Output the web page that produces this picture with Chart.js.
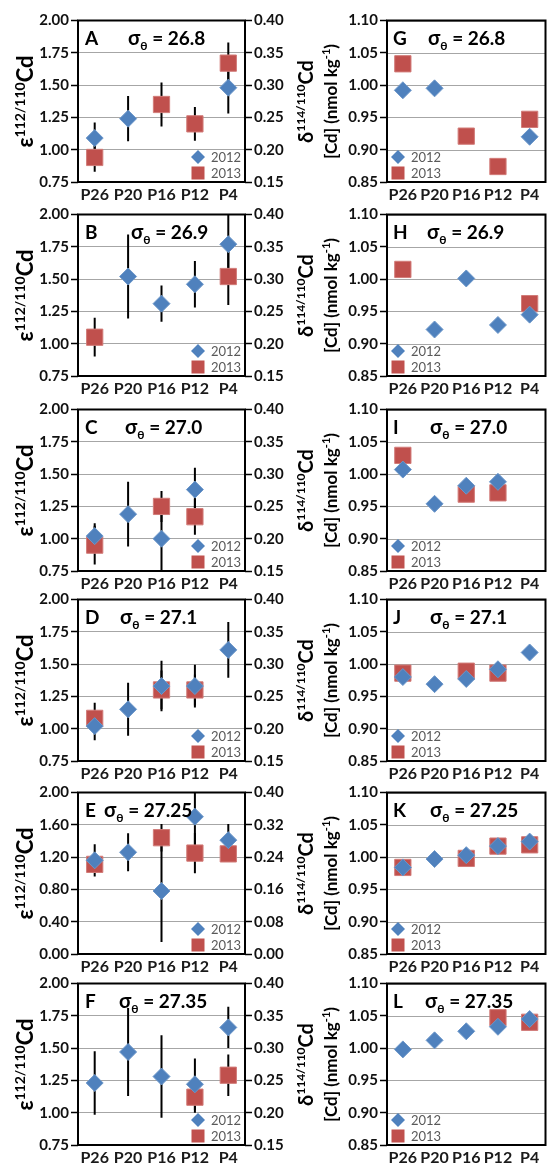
<!DOCTYPE html>
<html>
<head>
<meta charset="utf-8">
<script src="https://cdn.jsdelivr.net/npm/chart.js@4.4.1/dist/chart.umd.min.js"></script>
<style>
html, body { margin: 0; padding: 0; background: #fff; overflow: hidden; width: 551px; height: 1165px; position: relative; }
canvas { position: absolute; }
</style>
</head>
<body>
<script>
const stations = ['P26', 'P20', 'P16', 'P12', 'P4'];
const sigmas = ['26.8', '26.9', '27.0', '27.1', '27.25', '27.35'];
const leftIds = ['A', 'B', 'C', 'D', 'E', 'F'];
const rightIds = ['G', 'H', 'I', 'J', 'K', 'L'];

// e112/110Cd values and +/- error bars, 2012 and 2013
const epsA12 = [1.09, 1.24, null, null, 1.48];
const errA12 = [0.12, 0.175, null, null, 0.20];
const epsA13 = [0.94, null, 1.35, 1.20, 1.67];
const errA13 = [0.11, null, 0.17, 0.13, 0.16];

const epsB12 = [null, 1.52, 1.31, 1.46, 1.77];
const errB12 = [null, 0.325, 0.14, 0.18, 0.25];
const epsB13 = [1.05, null, null, null, 1.52];
const errB13 = [0.15, null, null, null, 0.22];

const epsC12 = [1.02, 1.19, 1.00, 1.38, null];
const errC12 = [0.10, 0.25, 0.28, 0.17, null];
const epsC13 = [0.95, null, 1.25, 1.17, null];
const errC13 = [0.15, null, 0.12, 0.14, null];

const epsD12 = [1.02, 1.15, 1.33, 1.33, 1.61];
const errD12 = [0.11, 0.205, 0.195, 0.165, 0.215];
const epsD13 = [1.08, null, 1.30, 1.30, null];
const errD13 = [0.12, null, 0.15, 0.12, null];

const epsE12 = [1.16, 1.26, 0.78, 1.70, 1.41];
const errE12 = [0.20, 0.235, 0.63, 0.40, 0.20];
const epsE13 = [1.11, null, 1.44, 1.25, 1.24];
const errE13 = [0.10, null, 0.17, 0.25, 0.09];

const epsF12 = [1.23, 1.47, 1.28, 1.22, 1.66];
const errF12 = [0.245, 0.34, 0.32, 0.20, 0.16];
const epsF13 = [null, null, null, 1.12, 1.29];
const errF13 = [null, null, null, 0.12, 0.16];

// [Cd] nmol/kg, 2012 and 2013
const cdG12 = [0.992, 0.995, null, null, 0.920];
const cdG13 = [1.033, null, 0.921, 0.874, 0.947];
const cdH12 = [null, 0.922, 1.001, 0.929, 0.945];
const cdH13 = [1.015, null, null, null, 0.962];
const cdI12 = [1.007, 0.954, 0.982, 0.988, null];
const cdI13 = [1.029, null, 0.969, 0.971, null];
const cdJ12 = [0.980, 0.969, 0.977, 0.992, 1.018];
const cdJ13 = [0.986, null, 0.989, 0.986, null];
const cdK12 = [0.984, 0.997, 1.003, 1.017, 1.024];
const cdK13 = [0.984, null, 0.998, 1.017, 1.019];
const cdL12 = [0.998, 1.012, 1.026, 1.033, 1.045];
const cdL13 = [null, null, null, 1.047, 1.040];

const FONT = "Lato, 'Open Sans', 'DejaVu Sans', sans-serif";
const BLUE = '#4F81BD';
const RED = '#C0504D';
const GRID = '#a6a6a6';

Chart.defaults.font.family = FONT;

const tops = [20, 214, 409, 599, 792, 983];
const sigOffL = [50, 53, 47, 42, 26, 41];
const sigOffR = [41, 40, 43, 43, 43, 38];
const RIGHT_LEFT = 318;
const RIGHT_FRAME = 548; // right frame edge of the right column (page px)

function rich(ctx, parts, x, y) {
  let w = 0;
  parts.forEach(p => {
    ctx.font = 'bold ' + p.s + 'px ' + FONT;
    p.w = ctx.measureText(p.t).width;
    w += p.w;
  });
  let cx = x - w / 2;
  parts.forEach(p => {
    ctx.font = 'bold ' + p.s + 'px ' + FONT;
    ctx.fillText(p.t, cx, y + (p.dy || 0));
    cx += p.w;
  });
}
function richLeft(ctx, parts, x, y) {
  let cx = x;
  parts.forEach(p => {
    ctx.font = 'bold ' + p.s + 'px ' + FONT;
    ctx.fillText(p.t, cx, y + (p.dy || 0));
    cx += ctx.measureText(p.t).width;
  });
}

function makePanel(side, k, v12, e12, v13, e13) {
  const isL = side === 'L';
  const W = isL ? 318 : 240;
  const H = 202;
  const cv = document.createElement('canvas');
  cv.width = W; cv.height = H;
  cv.style.left = (isL ? 0 : RIGHT_LEFT) + 'px';
  cv.style.top = (tops[k] - 12) + 'px';
  cv.style.width = W + 'px'; cv.style.height = H + 'px';
  document.body.appendChild(cv);

  let min = 0.85, max = 1.10, step = 0.05;
  if (isL) {
    min = k === 4 ? 0 : 0.75; max = 2.0; step = k === 4 ? 0.4 : 0.25;
  }

  const deco = {
    id: 'deco',
    beforeDatasetsDraw(chart) {
      const { ctx, chartArea: a, scales } = chart;
      const x = scales.x, y = scales.y;
      const fr = isL ? a.right : Math.min(a.right, RIGHT_FRAME - RIGHT_LEFT);
      // horizontal gridlines for the right column stop at its frame
      if (!isL) {
        ctx.save();
        ctx.strokeStyle = GRID;
        ctx.lineWidth = 1;
        y.ticks.forEach(t => {
          const py = Math.round(y.getPixelForValue(t.value)) + 0.5;
          ctx.beginPath(); ctx.moveTo(a.left, py); ctx.lineTo(fr, py); ctx.stroke();
        });
        ctx.restore();
      }
      ctx.save();
      ctx.beginPath();
      ctx.rect(a.left, a.top, a.right - a.left, a.bottom - a.top);
      ctx.clip();
      ctx.strokeStyle = '#000';
      ctx.lineWidth = 2;
      chart.data.datasets.forEach(ds => {
        if (!ds.errs) return;
        ds.data.forEach((v, i) => {
          const e = ds.errs[i];
          if (v == null || e == null) return;
          const px = x.getPixelForValue(i);
          ctx.beginPath();
          ctx.moveTo(px, y.getPixelForValue(v - e));
          ctx.lineTo(px, y.getPixelForValue(v + e));
          ctx.stroke();
        });
      });
      ctx.restore();
      ctx.save();
      ctx.strokeStyle = '#000';
      ctx.lineWidth = 2;
      ctx.strokeRect(a.left, a.top, fr - a.left, a.bottom - a.top);
      ctx.restore();
    },
    afterDraw(chart) {
      const { ctx, chartArea: a } = chart;
      ctx.save();
      ctx.fillStyle = '#000';
      ctx.textBaseline = 'alphabetic';
      // panel letter and density
      ctx.font = 'bold 19px ' + FONT;
      ctx.fillText(isL ? leftIds[k] : rightIds[k], a.left + (isL ? 7 : 6), a.top + 24);
      richLeft(ctx, [
        { t: 'σ', s: 20 },
        { t: 'θ', s: 12, dy: 5 },
        { t: ' = ' + sigmas[k], s: 19 }
      ], a.left + (isL ? sigOffL[k] : sigOffR[k]), a.top + 24);

      // legend
      const lx = isL ? a.left + 120 : a.left + 11;
      const y1 = a.bottom - 25, y2 = a.bottom - 9;
      ctx.fillStyle = BLUE;
      ctx.beginPath();
      ctx.moveTo(lx - 7, y1); ctx.lineTo(lx, y1 - 7); ctx.lineTo(lx + 7, y1); ctx.lineTo(lx, y1 + 7);
      ctx.closePath(); ctx.fill();
      ctx.fillStyle = RED;
      ctx.fillRect(lx - 6.5, y2 - 6.5, 13, 13);
      ctx.fillStyle = '#595959';
      ctx.font = '13px ' + FONT;
      ctx.textBaseline = 'middle';
      ctx.fillText('2012', lx + 13, y1 + 1);
      ctx.fillText('2013', lx + 13, y2 + 1);

      // axis titles
      ctx.fillStyle = '#000';
      ctx.textBaseline = 'alphabetic';
      const cy = a.top + 81;
      if (isL) {
        ctx.save();
        ctx.translate(25, cy); ctx.rotate(-Math.PI / 2);
        rich(ctx, [{ t: 'ε', s: 22 }, { t: '112/110', s: 14, dy: -8 }, { t: 'Cd', s: 22 }], 0, 8);
        ctx.restore();
        ctx.save();
        ctx.translate(305, cy); ctx.rotate(-Math.PI / 2);
        rich(ctx, [{ t: 'δ', s: 20 }, { t: '114/110', s: 12, dy: -8 }, { t: 'Cd', s: 20 }], 0, 8);
        ctx.restore();
      } else {
        ctx.save();
        ctx.translate(13, cy); ctx.rotate(-Math.PI / 2);
        rich(ctx, [{ t: '[Cd] (nmol kg', s: 17 }, { t: '-1', s: 11, dy: -7 }, { t: ')', s: 17 }], 0, 6);
        ctx.restore();
      }
      ctx.restore();
    }
  };

  const tickFont = { size: 15, weight: 'bold' };
  const scales = {
    x: {
      type: 'category',
      offset: true,
      grid: { display: false, drawTicks: false },
      border: { display: false },
      ticks: { font: { size: 16, weight: 'bold' }, color: '#1a1a1a', padding: 3, maxRotation: 0, autoSkip: false },
      afterFit: s => { s.height = 28; }
    },
    y: {
      position: 'left',
      min: min, max: max,
      ticks: { stepSize: step, callback: v => Number(v).toFixed(2), font: tickFont, color: '#111', padding: 2 },
      grid: { color: GRID, lineWidth: 1, drawOnChartArea: isL, tickLength: 7, tickColor: '#000', tickWidth: 1.5 },
      border: { display: false },
      afterFit: s => { s.width = isL ? 78 : 69; }
    }
  };
  if (isL) {
    scales.y2 = {
      position: 'right',
      min: min * 0.2, max: max * 0.2,
      ticks: { stepSize: step * 0.2, callback: v => Number(v).toFixed(2), font: tickFont, color: '#111', padding: 2 },
      grid: { drawOnChartArea: false, tickLength: 7, tickColor: '#000', tickWidth: 1.5 },
      border: { display: false },
      afterFit: s => { s.width = 73; }
    };
  }

  new Chart(cv, {
    type: 'line',
    data: {
      labels: stations,
      datasets: [
        {
          label: '2012', data: v12, errs: e12, showLine: false, order: 1,
          pointStyle: 'rectRot', pointRadius: 8.5, pointHoverRadius: 8.5,
          backgroundColor: BLUE, borderColor: '#6d97c9', borderWidth: 1
        },
        {
          label: '2013', data: v13, errs: e13, showLine: false, order: 2,
          pointStyle: 'rect', pointRadius: 11.5, pointHoverRadius: 11.5,
          backgroundColor: RED, borderColor: '#d27c79', borderWidth: 1
        }
      ]
    },
    options: {
      responsive: false,
      animation: false,
      devicePixelRatio: 1,
      layout: { padding: { top: 12, right: isL ? 0 : 2, left: 0, bottom: 0 } },
      plugins: { legend: { display: false }, tooltip: { enabled: false } },
      events: [],
      scales: scales
    },
    plugins: [deco]
  });
}

makePanel('L', 0, epsA12, errA12, epsA13, errA13);
makePanel('L', 1, epsB12, errB12, epsB13, errB13);
makePanel('L', 2, epsC12, errC12, epsC13, errC13);
makePanel('L', 3, epsD12, errD12, epsD13, errD13);
makePanel('L', 4, epsE12, errE12, epsE13, errE13);
makePanel('L', 5, epsF12, errF12, epsF13, errF13);

makePanel('R', 0, cdG12, null, cdG13, null);
makePanel('R', 1, cdH12, null, cdH13, null);
makePanel('R', 2, cdI12, null, cdI13, null);
makePanel('R', 3, cdJ12, null, cdJ13, null);
makePanel('R', 4, cdK12, null, cdK13, null);
makePanel('R', 5, cdL12, null, cdL13, null);
</script>
</body>
</html>
